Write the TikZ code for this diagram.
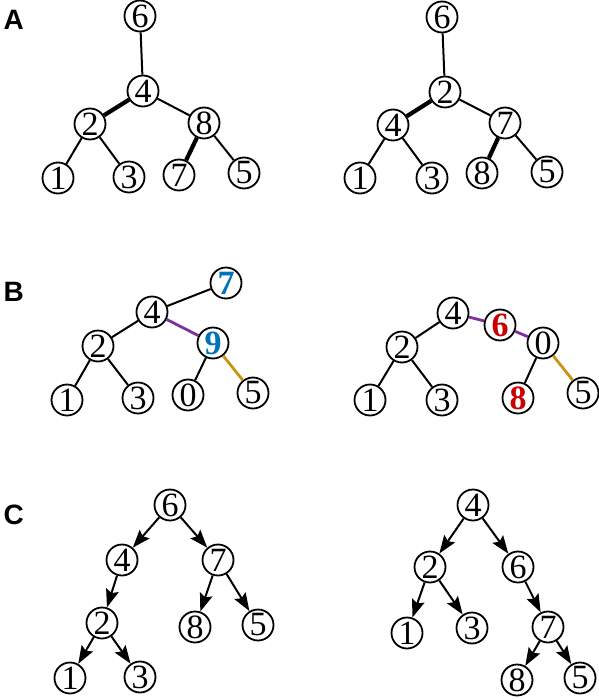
\documentclass[tikz,border=0pt]{standalone}
\usepackage{fontspec}
\setmainfont{Liberation Serif}
\newfontfamily\panelfont{Liberation Sans}
\usetikzlibrary{arrows.meta}

\definecolor{keyblue}{RGB}{0,114,189}
\definecolor{keyred}{RGB}{200,0,0}
\definecolor{linkpurple}{RGB}{126,47,160}
\definecolor{linkgold}{RGB}{200,150,20}

\begin{document}
\begin{tikzpicture}[x=1pt, y=-1pt, >={Stealth[length=18pt, width=13pt, inset=3pt]},
    vert/.style={circle, draw, fill=white, line width=1.8pt, minimum size=31pt, inner sep=0pt,
        font=\fontsize{34}{34}\selectfont},
    hot/.style={font=\fontsize{34}{34}\selectfont\bfseries},
    edge/.style={line width=2pt},
    heavy/.style={line width=4.2pt},
    tint/.style={line width=2.8pt},
    tag/.style={anchor=west, font=\panelfont\bfseries\fontsize{28}{28}\selectfont}]
    \useasboundingbox (0,0) rectangle (598,699);

    % panel A
    \node[tag] (tagA) at (0,20) {A};
    \node[vert] (a6) at (140,16) {6};
    \node[vert] (a4) at (143,91) {4};
    \node[vert] (a2) at (90,124) {2};
    \node[vert] (a8) at (204,123) {8};
    \node[vert] (a1) at (58,178) {1};
    \node[vert] (a3) at (129,177) {3};
    \node[vert] (a7) at (179,175) {7};
    \node[vert] (a5) at (244,173) {5};
    \draw[edge] (a6) -- (a4);
    \draw[heavy] (a4) -- (a2);
    \draw[edge] (a4) -- (a8);
    \draw[edge] (a2) -- (a1);
    \draw[edge] (a2) -- (a3);
    \draw[heavy] (a8) -- (a7);
    \draw[edge] (a8) -- (a5);

    \node[vert] (r6) at (442,17) {6};
    \node[vert] (r2) at (445,92) {2};
    \node[vert] (r4) at (393,125) {4};
    \node[vert] (r7) at (505,123) {7};
    \node[vert] (r1) at (360,178) {1};
    \node[vert] (r3) at (432,178) {3};
    \node[vert] (r8) at (482,173) {8};
    \node[vert] (r5) at (547,172) {5};
    \draw[edge] (r6) -- (r2);
    \draw[heavy] (r2) -- (r4);
    \draw[edge] (r2) -- (r7);
    \draw[edge] (r4) -- (r1);
    \draw[edge] (r4) -- (r3);
    \draw[heavy] (r7) -- (r8);
    \draw[edge] (r7) -- (r5);

    % panel B
    \node[tag] (tagB) at (0,292) {B};
    \node[vert, hot, text=keyblue] (b7) at (226,283) {7};
    \node[vert] (b4) at (152,312) {4};
    \node[vert, hot, text=keyblue] (b9) at (213,343) {9};
    \node[vert] (b2) at (98,346) {2};
    \node[vert] (b1) at (67,400) {1};
    \node[vert] (b3) at (138,398) {3};
    \node[vert] (b0) at (188,395) {0};
    \node[vert] (b5) at (253,393) {5};
    \draw[edge] (b4) -- (b7);
    \draw[edge] (b4) -- (b2);
    \draw[tint, linkpurple] (b4) -- (b9);
    \draw[edge] (b2) -- (b1);
    \draw[edge] (b2) -- (b3);
    \draw[edge] (b9) -- (b0);
    \draw[tint, linkgold] (b9) -- (b5);

    \node[vert] (s4) at (453,313) {4};
    \node[vert, hot, text=keyred] (s6) at (500,325) {6};
    \node[vert] (s0) at (543,343) {0};
    \node[vert] (s2) at (402,347) {2};
    \node[vert] (s1) at (370,400) {1};
    \node[vert] (s3) at (442,400) {3};
    \node[vert, hot, text=keyred] (s8) at (518,398) {8};
    \node[vert] (s5) at (583,393) {5};
    \draw[edge] (s4) -- (s2);
    \draw[tint, linkpurple] (s4) -- (s6);
    \draw[tint, linkpurple] (s6) -- (s0);
    \draw[edge] (s2) -- (s1);
    \draw[edge] (s2) -- (s3);
    \draw[edge] (s0) -- (s8);
    \draw[tint, linkgold] (s0) -- (s5);

    % panel C
    \node[tag] (tagC) at (0,515) {C};
    \node[vert] (c6) at (170,505) {6};
    \node[vert] (c4) at (122,560) {4};
    \node[vert] (c7) at (218,560) {7};
    \node[vert] (c2) at (102,623) {2};
    \node[vert] (c8) at (195,627) {8};
    \node[vert] (c5) at (258,625) {5};
    \node[vert] (c1) at (70,678) {1};
    \node[vert] (c3) at (140,677) {3};
    \draw[edge, ->] (c6) -- (c4);
    \draw[edge, ->] (c6) -- (c7);
    \draw[edge, ->] (c4) -- (c2);
    \draw[edge, ->] (c7) -- (c8);
    \draw[edge, ->] (c7) -- (c5);
    \draw[edge, ->] (c2) -- (c1);
    \draw[edge, ->] (c2) -- (c3);

    \node[vert] (t4) at (473,505) {4};
    \node[vert] (t2) at (430,567) {2};
    \node[vert] (t6) at (518,567) {6};
    \node[vert] (t1) at (407,633) {1};
    \node[vert] (t3) at (472,628) {3};
    \node[vert] (t7) at (548,627) {7};
    \node[vert] (t8) at (517,680) {8};
    \node[vert] (t5) at (580,678) {5};
    \draw[edge, ->] (t4) -- (t2);
    \draw[edge, ->] (t4) -- (t6);
    \draw[edge, ->] (t2) -- (t1);
    \draw[edge, ->] (t2) -- (t3);
    \draw[edge, ->] (t6) -- (t7);
    \draw[edge, ->] (t7) -- (t8);
    \draw[edge, ->] (t7) -- (t5);
\end{tikzpicture}
\end{document}
